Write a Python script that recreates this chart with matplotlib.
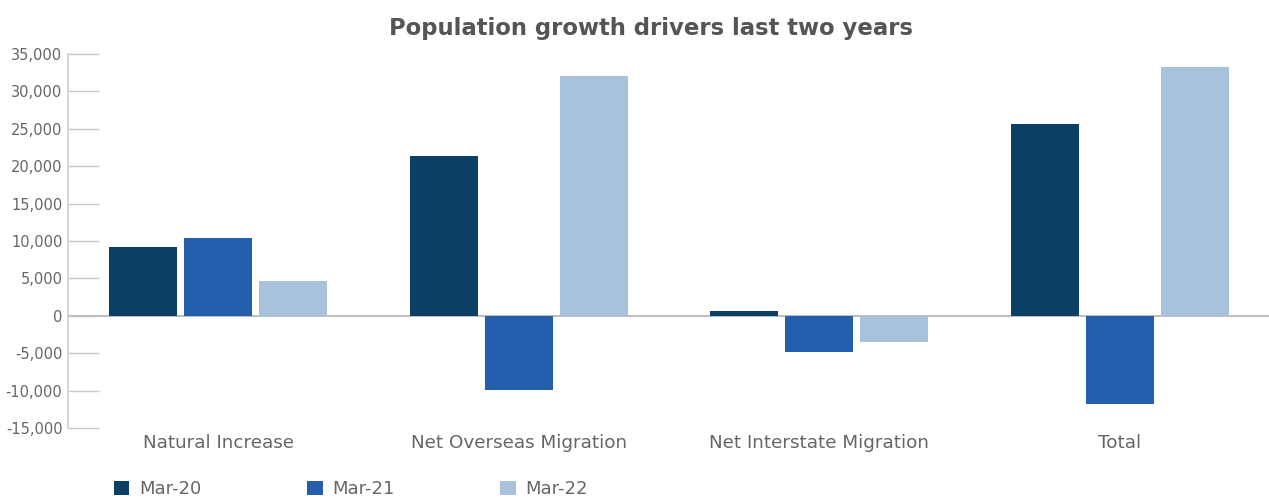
import matplotlib
matplotlib.use("Agg")
import matplotlib.pyplot as plt
import numpy as np
from matplotlib.patches import Patch
from matplotlib.ticker import FuncFormatter

categories = ["Natural Increase", "Net Overseas Migration", "Net Interstate Migration", "Total"]
series_names = ["Mar-20", "Mar-21", "Mar-22"]
mar20 = [9200, 21400, 600, 25650]
mar21 = [10400, -9900, -4800, -11750]
mar22 = [4700, 32000, -3450, 33300]
y_ticks = [-15000, -10000, -5000, 0, 5000, 10000, 15000, 20000, 25000, 30000, 35000]

colors = ["#0b3f63", "#245ead", "#a9c2db"]
text_grey = "#666666"
line_grey = "#c8c8c8"

fig = plt.figure(figsize=(12.69, 5.0), dpi=100)
ax = fig.add_axes([68 / 1269, 72 / 500, 1202 / 1269, 374 / 500])

x = np.arange(len(categories))
width = 0.226
step = 0.25
for i, (vals, col) in enumerate(zip([mar20, mar21, mar22], colors)):
    ax.bar(x + (i - 1) * step, vals, width=width, color=col, zorder=3)

ax.set_xlim(-0.5, len(categories) - 0.5)
ax.set_ylim(-15000, 35000)
ax.set_yticks(y_ticks)
ax.yaxis.set_major_formatter(FuncFormatter(lambda v, _: f"{int(v):,}"))
ax.axhline(0, color="#bfbfbf", lw=1.5, zorder=2)

for s in ["top", "right", "bottom"]:
    ax.spines[s].set_visible(False)
ax.spines["left"].set_color("#d0d0d0")
ax.spines["left"].set_linewidth(1.2)

ax.tick_params(axis="y", direction="in", length=22, width=1, color=line_grey,
               labelsize=10.5, labelcolor=text_grey, pad=4)
ax.set_xticks(x)
ax.set_xticklabels(categories)
ax.tick_params(axis="x", length=0, labelsize=13.2, labelcolor=text_grey, pad=4)

fig.text(0.513, 0.944, "Population growth drivers last two years", ha="center", va="center",
         fontsize=16.4, fontweight="semibold", color="#555555")

handles = [Patch(facecolor=c, edgecolor="none") for c in colors]
fig.legend(handles, series_names, loc="center left", bbox_to_anchor=(114 / 1269, 0.021),
           ncol=3, frameon=False, fontsize=13, labelcolor=text_grey,
           handlelength=0.85, handleheight=0.85, handletextpad=0.55,
           columnspacing=5.85, borderpad=0, borderaxespad=0)

fig.savefig("out.png", dpi=100)
